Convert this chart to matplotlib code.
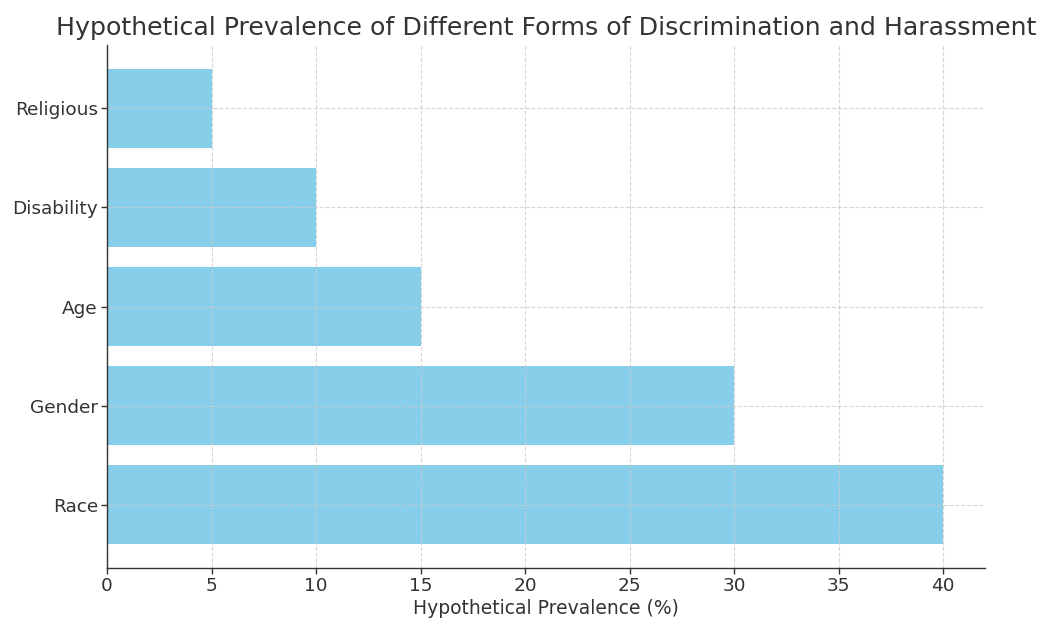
import matplotlib.pyplot as plt

plt.rcParams['font.family'] = ['DejaVu Sans']

# data
categories = ["Race", "Gender", "Age", "Disability", "Religious"]
prevalence = [40, 30, 15, 10, 5]

title = "Hypothetical Prevalence of Different Forms of Discrimination and Harassment"
xlabel = "Hypothetical Prevalence (%)"

text_color = "#333333"

fig, ax = plt.subplots(figsize=(10.48, 6.25), dpi=100)
fig.subplots_adjust(left=0.1021, right=0.9399, bottom=0.0912, top=0.928)

ax.barh(categories, prevalence, color="skyblue")

ax.set_title(title, fontsize=18.2, color=text_color, pad=7.5)
ax.set_xlabel(xlabel, fontsize=13.5, color=text_color, labelpad=3)

ax.tick_params(axis="both", labelsize=13.3, colors=text_color, length=4, width=1, pad=2.5)
ax.grid(True, linestyle="--", color="#cccccc", linewidth=0.8, alpha=0.8)

for side in ["top", "right"]:
    ax.spines[side].set_visible(False)
for side in ["left", "bottom"]:
    ax.spines[side].set_color(text_color)
    ax.spines[side].set_linewidth(1.0)

fig.savefig("out.png", dpi=100)
